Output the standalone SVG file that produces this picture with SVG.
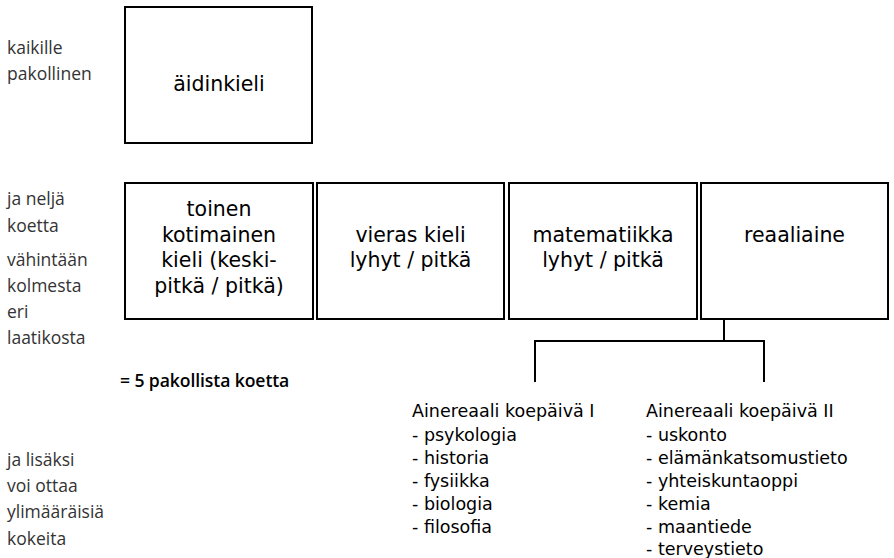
<svg xmlns="http://www.w3.org/2000/svg" width="894" height="558" viewBox="0 0 894 558">
<style>
.box{fill:#fff;stroke:#000;stroke-width:2}
.bt{font-family:"DejaVu Sans",Verdana,sans-serif;font-size:20.5px;fill:#000;text-anchor:middle}
.side{font-family:"Open Sans","Noto Sans",sans-serif;font-weight:400;font-size:17.5px;fill:#333}
.sum{font-family:"Open Sans","Noto Sans",sans-serif;font-weight:600;font-size:17.6px;fill:#000;letter-spacing:-0.1px}
.list{font-family:"DejaVu Sans",Verdana,sans-serif;font-size:17.5px;fill:#000}
.conn{fill:none;stroke:#000;stroke-width:2}
</style>
<rect width="894" height="558" fill="#fff"/>
<g id="side-labels">
<text class="side" x="7" y="54">kaikille</text>
<text class="side" x="7" y="80">pakollinen</text>
<text class="side" x="7" y="205">ja neljä</text>
<text class="side" x="7" y="232">koetta</text>
<text class="side" x="7" y="266">vähintään</text>
<text class="side" x="7" y="292">kolmesta</text>
<text class="side" x="7" y="318">eri</text>
<text class="side" x="7" y="344">laatikosta</text>
<text class="side" x="7" y="466">ja lisäksi</text>
<text class="side" x="7" y="492">voi ottaa</text>
<text class="side" x="7" y="518">ylimääräisiä</text>
<text class="side" x="7" y="545">kokeita</text>
<text class="sum" x="120" y="387">= 5 pakollista koetta</text>
</g>
<g id="aidinkieli">
<rect class="box" x="125" y="7" width="187" height="136"/>
<text class="bt" x="219" y="91">äidinkieli</text>
</g>
<g id="toinen-kotimainen">
<rect class="box" x="125" y="183" width="188" height="136"/>
<text class="bt" x="219" y="216">toinen</text>
<text class="bt" x="219" y="242">kotimainen</text>
<text class="bt" x="219" y="267">kieli (keski-</text>
<text class="bt" x="219" y="293">pitkä / pitkä)</text>
</g>
<g id="vieras-kieli">
<rect class="box" x="317" y="183" width="187" height="136"/>
<text class="bt" x="410.5" y="242">vieras kieli</text>
<text class="bt" x="410.5" y="267">lyhyt / pitkä</text>
</g>
<g id="matematiikka">
<rect class="box" x="509" y="183" width="188" height="136"/>
<text class="bt" x="603" y="242">matematiikka</text>
<text class="bt" x="603" y="267">lyhyt / pitkä</text>
</g>
<g id="reaaliaine">
<rect class="box" x="701" y="183" width="187" height="136"/>
<text class="bt" x="794.5" y="242">reaaliaine</text>
</g>
<g id="connectors">
<path class="conn" d="M724 319 V341 M535 382 V341 H764 V382"/>
</g>
<g id="koepaiva-1">
<text class="list" x="412" y="417">Ainereaali koepäivä I</text>
<text class="list" x="412" y="441">- psykologia</text>
<text class="list" x="412" y="464">- historia</text>
<text class="list" x="412" y="487">- fysiikka</text>
<text class="list" x="412" y="510">- biologia</text>
<text class="list" x="412" y="533">- filosofia</text>
</g>
<g id="koepaiva-2">
<text class="list" x="646" y="417">Ainereaali koepäivä II</text>
<text class="list" x="646" y="441">- uskonto</text>
<text class="list" x="646" y="464">- elämänkatsomustieto</text>
<text class="list" x="646" y="487">- yhteiskuntaoppi</text>
<text class="list" x="646" y="510">- kemia</text>
<text class="list" x="646" y="533">- maantiede</text>
<text class="list" x="646" y="555">- terveystieto</text>
</g>
</svg>
